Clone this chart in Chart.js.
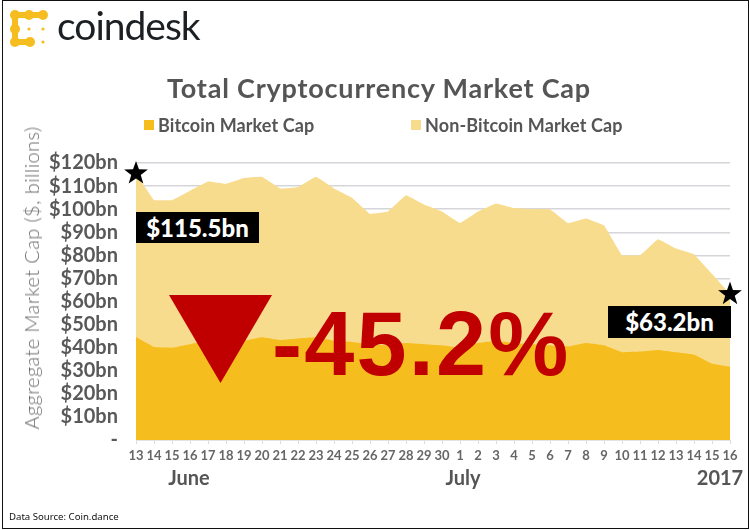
<!DOCTYPE html>
<html>
<head>
<meta charset="utf-8">
<title>Total Cryptocurrency Market Cap</title>
<script src="https://cdn.jsdelivr.net/npm/chart.js@4"></script>
<style>
  html, body { margin: 0; padding: 0; background: #fff; }
  #page { position: relative; width: 750px; height: 530px; overflow: hidden; background: #fff; font-family: Lato, sans-serif; }
  #page canvas { position: absolute; left: 0; top: 0; }
  #frame { position: absolute; left: 2px; top: 0; width: 745px; height: 527px; border: 1.5px solid #111; pointer-events: none; }
  .txt { position: absolute; white-space: nowrap; }
  #brand { left: 57px; top: 0; font-size: 39px; line-height: 50px; color: #1d2023; letter-spacing: -1px; }
  #heading { left: 0; width: 758px; text-align: center; top: 71px; font-size: 27px; line-height: 34px; font-weight: 700; color: #555; letter-spacing: 0.8px; }
  .legend { top: 114px; font-size: 18px; line-height: 22px; font-weight: 700; color: #555; letter-spacing: 0.1px; }
  .swatch { position: absolute; top: 120px; width: 10px; height: 10px; }
  #yTitle { left: 31px; top: 278px; font-size: 20px; font-weight: 300; color: #6a6a6a; transform: translate(-50%, -50%) rotate(-90deg); letter-spacing: 0.4px; }
  .month { top: 465px; font-size: 20px; line-height: 24px; font-weight: 700; color: #555; transform: translateX(-50%); }
  .callout { position: absolute; background: #000; color: #fff; font-weight: 900; font-size: 24px; text-align: center; }
  #triangle { position: absolute; left: 169px; top: 295px; width: 103px; height: 88px; background: #c00000; clip-path: polygon(0 0, 100% 0, 50% 100%); }
  #change { left: 272px; top: 289px; font-family: "Liberation Sans", sans-serif; font-size: 90px; line-height: 110px; font-weight: 700; color: #c00000; letter-spacing: 2.2px; }
  #source { left: 9px; top: 509px; font-family: "Noto Sans", sans-serif; font-size: 9.6px; line-height: 16px; color: #111; }
</style>
</head>
<body>
<div id="page">
  <canvas id="capChart" width="750" height="530"></canvas>

  <svg style="position:absolute;left:0;top:0" width="60" height="60">
    <g fill="none" stroke="#f5bd1f" stroke-width="6" stroke-linecap="round">
      <path d="M15 15 H43" />
      <path d="M15 15 V42" />
      <path d="M15 42 H30" />
    </g>
    <g fill="#f5bd1f">
      <circle cx="15" cy="15" r="5" />
      <circle cx="29" cy="15" r="5" />
      <circle cx="43" cy="15" r="5" />
      <circle cx="15" cy="29" r="5" />
      <circle cx="15" cy="42" r="5" />
      <circle cx="30" cy="42" r="5" />
      <circle cx="29" cy="29" r="1.6" />
      <circle cx="43" cy="29" r="1.6" />
      <circle cx="43" cy="42" r="1.6" />
    </g>
  </svg>
  <div class="txt" id="brand">coindesk</div>

  <div class="txt" id="heading">Total Cryptocurrency Market Cap</div>
  <div class="swatch" style="left:144px;background:#f6bd1f"></div>
  <div class="txt legend" style="left:158px">Bitcoin Market Cap</div>
  <div class="swatch" style="left:411px;background:#f8dc8d"></div>
  <div class="txt legend" style="left:425px">Non-Bitcoin Market Cap</div>

  <div class="txt" id="yTitle">Aggregate Market Cap ($, billions)</div>

  <div class="txt month" style="left:189px">June</div>
  <div class="txt month" style="left:463px">July</div>
  <div class="txt month" style="left:720px">2017</div>

  <div class="callout" style="left:136px;top:212px;width:123px;height:31px;line-height:31px">$115.5bn</div>
  <div class="callout" style="left:608px;top:306px;width:123px;height:32px;line-height:32px">$63.2bn</div>

  <div id="triangle"></div>
  <div class="txt" id="change">-45.2%</div>

  <div class="txt" id="source">Data Source: Coin.dance</div>
  <div id="frame"></div>
</div>

<script>
// Data ($ billions)
const days = ['13','14','15','16','17','18','19','20','21','22','23','24','25','26','27','28','29','30',
  '1','2','3','4','5','6','7','8','9','10','11','12','13','14','15','16'];
const bitcoinCap = [44.6,40.3,40.0,41.5,43.0,43.5,43.0,44.5,43.3,44.0,44.5,43.0,42.5,41.5,41.0,42.0,41.5,41.0,
  40.0,42.0,43.0,42.0,41.5,41.0,40.5,42.0,41.0,38.0,38.3,39.0,38.0,37.0,33.0,31.7];
const nonBitcoinCap = [70.9,63.7,63.9,66.5,69.0,67.5,70.5,69.5,65.7,65.5,69.5,66.0,62.5,56.5,58.0,64.0,60.5,58.0,
  54.0,57.0,59.5,58.5,58.5,59.0,53.5,54.0,52.0,42.0,41.7,48.0,45.0,43.5,39.0,31.5];
const starDays = [0, 33];
const starValues = [115.5, 63.2];
const yTicks = ['-','$10bn','$20bn','$30bn','$40bn','$50bn','$60bn','$70bn','$80bn','$90bn','$100bn','$110bn','$120bn'];

// Five pointed stars at the start and end of the total, placed through the scales
const starPlugin = {
  id: 'stars',
  afterDatasetsDraw(chart) {
    const g = chart.ctx;
    starDays.forEach((d, n) => {
      const x = chart.scales.x.getPixelForValue(d);
      const y = chart.scales.y.getPixelForValue(starValues[n]);
      g.save();
      g.beginPath();
      for (let i = 0; i < 10; i++) {
        const rad = i % 2 ? 5 : 12.5;
        const a = -Math.PI / 2 + i * Math.PI / 5;
        g.lineTo(x + rad * Math.cos(a), y + rad * Math.sin(a));
      }
      g.closePath();
      g.fillStyle = '#000';
      g.fill();
      g.restore();
    });
  },
};

function areaSet(label, data, color) {
  return { label, data, backgroundColor: color, borderWidth: 0, fill: true, pointRadius: 0, tension: 0.05 };
}

new Chart(document.getElementById('capChart'), {
  type: 'line',
  data: {
    labels: days,
    datasets: [
      areaSet('Bitcoin Market Cap', bitcoinCap, '#f6bd1f'),
      areaSet('Non-Bitcoin Market Cap', nonBitcoinCap, '#f8dc8d'),
    ],
  },
  plugins: [starPlugin],
  options: {
    responsive: false,
    animation: false,
    layout: { padding: { left: 21, right: 20, top: 163, bottom: 40 } },
    plugins: { legend: { display: false }, title: { display: false }, tooltip: { enabled: false } },
    scales: {
      x: {
        offset: false,
        grid: { drawOnChartArea: false, drawTicks: true, tickLength: 4, color: '#dcdcdc' },
        border: { color: '#e3e3e3' },
        ticks: { autoSkip: false, maxRotation: 0, minRotation: 0, padding: 4, color: '#666',
          font: { family: 'Lato', size: 13, weight: 700 } },
        afterFit: (scale) => { scale.height = 50; },
      },
      y: {
        stacked: true,
        min: 0,
        max: 120,
        grid: { color: '#d6d6da', lineWidth: 1.5, drawTicks: false },
        border: { display: false },
        ticks: { stepSize: 10, autoSkip: false, padding: 18, color: '#595959', font: { family: 'Lato', size: 20, weight: 700 },
          callback: (v) => yTicks[v / 10] },
        afterFit: (scale) => { scale.width = 115; },
      },
    },
  },
});
</script>
</body>
</html>
